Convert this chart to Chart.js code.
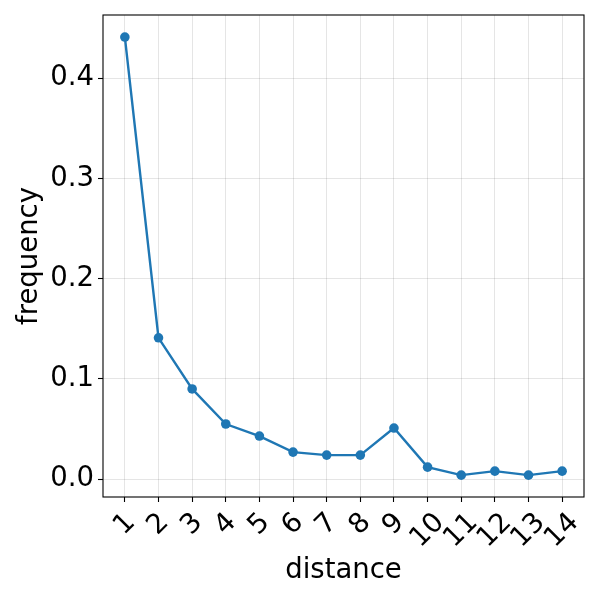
<!DOCTYPE html>
<html>
<head>
<meta charset="utf-8">
<script src="https://cdn.jsdelivr.net/npm/chart.js@4"></script>
<style>
    html, body { margin: 0; padding: 0; background: #fff; }
    #wrap { width: 600px; height: 600px; }
</style>
</head>
<body>
<div id="wrap"><canvas id="chart" width="600" height="600"></canvas></div>
<script>
// distances on the x axis
const distances = [1, 2, 3, 4, 5, 6, 7, 8, 9, 10, 11, 12, 13, 14];
// frequency for each distance
const frequencies = [0.441, 0.141, 0.090, 0.055, 0.043, 0.027, 0.024, 0.024, 0.051, 0.012, 0.004, 0.008, 0.004, 0.008];
const yTicks = [0.0, 0.1, 0.2, 0.3, 0.4];

const FONT = 'DejaVu Sans';
const FONT_SIZE = 27.5;
const LINE_COLOR = '#1f77b4';

// black box round the plot area, like matplotlib spines
const framePlugin = {
    id: 'frame',
    afterDraw(chart) {
        const { ctx, chartArea } = chart;
        ctx.save();
        ctx.strokeStyle = '#000';
        ctx.lineWidth = 1.1;
        ctx.strokeRect(chartArea.left, chartArea.top,
            chartArea.right - chartArea.left, chartArea.bottom - chartArea.top);
        ctx.restore();
    }
};

// rotated x tick labels centred under each tick
const xLabelPlugin = {
    id: 'xLabels',
    afterDraw(chart) {
        const { ctx } = chart;
        const xScale = chart.scales.x;
        const top = chart.chartArea.bottom + 10;
        const h = FONT_SIZE * 1.17;
        ctx.save();
        ctx.font = `${FONT_SIZE}px "${FONT}"`;
        ctx.fillStyle = '#000';
        ctx.textAlign = 'center';
        ctx.textBaseline = 'middle';
        distances.forEach(d => {
            const label = String(d);
            const w = ctx.measureText(label).width;
            const size = (w + h) * Math.SQRT1_2;
            ctx.save();
            ctx.translate(xScale.getPixelForValue(d), top + size / 2);
            ctx.rotate(-Math.PI / 4);
            ctx.fillText(label, 0, 0);
            ctx.restore();
        });
        ctx.restore();
    }
};

new Chart(document.getElementById('chart'), {
    type: 'line',
    data: {
        datasets: [{
            data: distances.map((d, i) => ({ x: d, y: frequencies[i] })),
            borderColor: LINE_COLOR,
            backgroundColor: LINE_COLOR,
            borderWidth: 2.4,
            pointRadius: 4.8,
            pointHoverRadius: 4.8,
            pointBorderWidth: 0,
            tension: 0,
            fill: false
        }]
    },
    options: {
        responsive: false,
        animation: false,
        layout: { padding: { top: 15, right: 16, left: 0, bottom: 0 } },
        plugins: {
            legend: { display: false },
            tooltip: { enabled: false }
        },
        scales: {
            x: {
                type: 'linear',
                min: 0.35,
                max: 14.65,
                afterBuildTicks: scale => { scale.ticks = distances.map(v => ({ value: v })); },
                afterFit: scale => {
                    scale.height = 103;
                    scale.paddingLeft = 0;
                    scale.paddingRight = 0;
                },
                border: { display: false },
                grid: {
                    color: 'rgba(0,0,0,0.1)',
                    tickColor: '#000',
                    tickLength: 5,
                    tickWidth: 1.1
                },
                ticks: { display: false },
                title: {
                    display: true,
                    text: 'distance',
                    color: '#000',
                    font: { family: FONT, size: FONT_SIZE },
                    padding: { top: 0, bottom: 13 }
                }
            },
            y: {
                type: 'linear',
                min: -0.0178,
                max: 0.463,
                afterBuildTicks: scale => { scale.ticks = yTicks.map(v => ({ value: v })); },
                afterFit: scale => {
                    scale.width = 103;
                    scale.paddingTop = 0;
                    scale.paddingBottom = 0;
                },
                border: { display: false },
                grid: {
                    color: 'rgba(0,0,0,0.1)',
                    tickColor: '#000',
                    tickLength: 5,
                    tickWidth: 1.1
                },
                ticks: {
                    color: '#000',
                    padding: 4,
                    font: { family: FONT, size: FONT_SIZE },
                    callback: v => Number(v).toFixed(1)
                },
                title: {
                    display: true,
                    text: 'frequency',
                    color: '#000',
                    font: { family: FONT, size: FONT_SIZE },
                    padding: { top: 13, bottom: 0 }
                }
            }
        }
    },
    plugins: [framePlugin, xLabelPlugin]
});
</script>
</body>
</html>
